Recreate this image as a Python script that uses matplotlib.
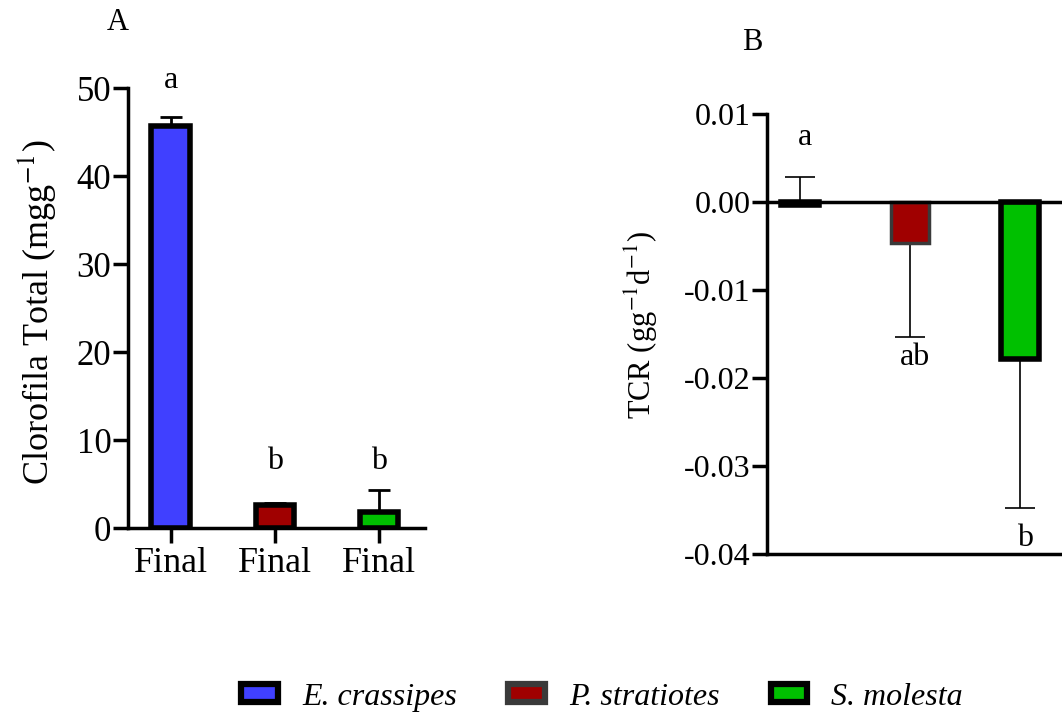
import matplotlib.pyplot as plt
import matplotlib.patches as mpatches
import numpy as np

plt.rcParams['font.family'] = ['Liberation Serif', 'DejaVu Serif']
plt.rcParams['mathtext.fontset'] = 'stix'

species = ['E. crassipes', 'P. stratiotes', 'S. molesta']
colors = ['#4040ff', '#a00000', '#00c000']
edges = ['black', '#3a3a3a', 'black']

# panel A: clorofila total
chl = [45.7, 2.6, 1.8]
chl_err = [1.0, 0.25, 2.5]
chl_letters = ['a', 'b', 'b']
chl_letter_y = [50.9, 7.6, 7.6]

# panel B: TCR
tcr = [-0.0003, -0.0047, -0.0178]
tcr_err_lo = [0.0, 0.0106, 0.017]
tcr_err_hi = [0.0031, 0.0, 0.0]
tcr_letters = ['a', 'ab', 'b']
tcr_letter_y = [0.0073, -0.0177, -0.0382]

fig = plt.figure(figsize=(10.62, 7.15), dpi=100)

# ---- A ----
ax1 = fig.add_axes([0.1205, 0.2615, 0.2797, 0.6154])
x = np.arange(3)
ax1.bar(x, chl, width=0.37, color=colors, edgecolor='black', linewidth=4, zorder=2)
ax1.errorbar(x, chl, yerr=[np.zeros(3), chl_err], fmt='none', ecolor='black',
             elinewidth=2, capsize=8, capthick=2, zorder=1)
for i in range(3):
    ax1.text(x[i], chl_letter_y[i], chl_letters[i], ha='center', va='center', fontsize=23)
ax1.set_xlim(-0.41, 2.44)
ax1.set_ylim(0, 50)
ax1.set_yticks([0, 10, 20, 30, 40, 50])
ax1.set_xticks(x)
ax1.set_xticklabels(['Final'] * 3)
ax1.spines['top'].set_visible(False)
ax1.spines['right'].set_visible(False)
ax1.spines['left'].set_linewidth(2.5)
ax1.spines['bottom'].set_linewidth(2.5)
ax1.tick_params(axis='y', width=2.5, length=11, labelsize=25, pad=1)
ax1.tick_params(axis='x', width=2.5, length=11, labelsize=26, pad=3)
ax1.set_ylabel('Clorofila Total (mgg$^{-1}$)', fontsize=26)
ax1.yaxis.set_label_coords(-0.235, 0.49)
fig.text(118 / 1062, 1 - 22 / 715, 'A', fontsize=22, ha='center', va='center')

# ---- B ----
ax2 = fig.add_axes([0.7222, 0.2252, 0.29, 0.6154])
ax2.bar(x, tcr, width=0.34, color=colors, edgecolor=edges,
        linewidth=[4, 2.5, 4], zorder=2)
ax2.errorbar(x, tcr, yerr=[tcr_err_lo, tcr_err_hi], fmt='none', ecolor='black',
             elinewidth=1.2, capsize=11, capthick=1.2, zorder=1)
ax2.axhline(0, color='black', linewidth=2.5, zorder=3)
for i in range(3):
    ax2.text(x[i] + 0.05, tcr_letter_y[i], tcr_letters[i], ha='center', va='center', fontsize=23)
ax2.set_xlim(-0.3, 2.5)
ax2.set_ylim(-0.04, 0.01)
ax2.set_yticks([0.01, 0.0, -0.01, -0.02, -0.03, -0.04])
ax2.set_yticklabels(['0.01', '0.00', '-0.01', '-0.02', '-0.03', '-0.04'])
ax2.set_xticks([])
ax2.spines['top'].set_visible(False)
ax2.spines['right'].set_visible(False)
ax2.spines['left'].set_linewidth(2.5)
ax2.spines['bottom'].set_linewidth(2.5)
ax2.tick_params(axis='y', width=2.5, length=11, labelsize=23, pad=1)
ax2.set_ylabel('TCR (gg$^{-1}$d$^{-1}$)', fontsize=22)
ax2.yaxis.set_label_coords(-0.347, 0.52)
fig.text(752 / 1062, 1 - 42 / 715, 'B', fontsize=22, ha='center', va='center')

# legend
handles = [mpatches.Patch(facecolor=colors[i], edgecolor=edges[i], linewidth=4.5,
                          label=species[i]) for i in range(3)]
fig.legend(handles=handles, loc='center', bbox_to_anchor=(0.567, 0.025), ncol=3,
           frameon=False, prop={'style': 'italic', 'size': 23},
           handlelength=1.15, handleheight=0.5, columnspacing=1.6, handletextpad=0.75)

fig.savefig('out.png', dpi=100)
